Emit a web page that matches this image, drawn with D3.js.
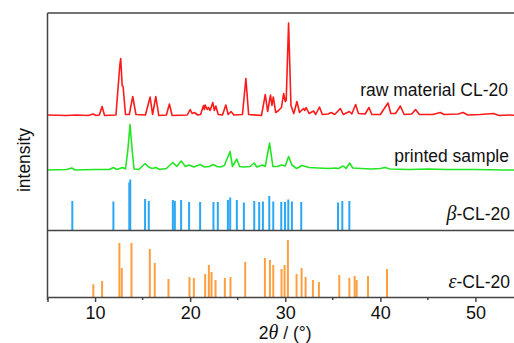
<!DOCTYPE html>
<html>
<head>
<meta charset="utf-8">
<script src="https://cdn.jsdelivr.net/npm/d3@7"></script>
<style>
  html, body { margin: 0; padding: 0; background: #fff; }
  svg { display: block; }
  text { font-family: "Liberation Sans", Arial, sans-serif; fill: #111; }
  .greek { font-family: "Liberation Serif", "DejaVu Serif", serif; font-style: italic; }
</style>
</head>
<body>
<div id="chart-holder"></div>
<script>
// measured pattern, [2theta, intensity above own baseline] (a.u.)
const rawMaterial = [
  [5, 0.5], [7, 0], [8, 0.5], [9.3, 0], [9.8, 1.5], [10.1, 0], [10.45, 0.5], [10.74, 9], [11.0, 0],
  [12.2, 0.5], [12.6, 50], [12.7, 57], [12.85, 30], [12.95, 29], [13.2, 1], [13.6, 1], [13.96, 19],
  [14.3, 1], [15.3, 0.5], [15.79, 18.5], [16.05, 1], [16.39, 19], [16.7, 0], [17.5, 0.5], [17.82, 11.5],
  [18.1, 0], [19.7, 0.5], [20.0, 6], [20.2, 2], [20.45, 3], [20.8, 0.5], [21.1, 1], [21.4, 10], [21.5, 6],
  [21.58, 10.5], [21.8, 6], [21.93, 8], [22.1, 5], [22.38, 13], [22.55, 5], [22.7, 9.5], [22.95, 1],
  [23.4, 0.5], [23.75, 10.5], [24.0, 1], [24.3, 4], [24.6, 0.5], [25.5, 1], [25.86, 37], [26.15, 1],
  [27.5, 0], [27.9, 21], [28.15, 4], [28.45, 20.5], [28.6, 10], [28.74, 18.5], [29.0, 3], [29.3, 5],
  [29.6, 8], [29.83, 22], [30.0, 14], [30.1, 15], [30.35, 92.5], [30.6, 10], [30.9, 2], [31.23, 14],
  [31.5, 3], [31.7, 5], [31.93, 7], [32.05, 5], [32.2, 8], [32.5, 2], [32.98, 4.5], [33.2, 1], [33.6, 8.5],
  [33.9, 1], [34.5, 1.5], [34.84, 3], [35.2, 1], [35.8, 7], [36.1, 1], [36.74, 4], [37.0, 1.5], [37.4, 11],
  [37.7, 2], [38.4, 1.5], [38.8, 8], [39.1, 1], [40.0, 1], [40.8, 12.5], [41.1, 2], [41.6, 2], [42.1, 9.5],
  [42.5, 1], [43.3, 1.5], [43.7, 6], [44.1, 1], [45.5, 1], [46.3, 3], [46.7, 1], [48.2, 1.5], [48.7, 3],
  [49.2, 0.5], [50.5, 1], [51.9, 2], [52.5, 0], [53.5, 0.5], [55, 0]
];

const printedSample = [
  [5, 0], [7, 0.5], [7.55, 2], [7.9, 0], [10, 0.5], [11.5, 0.5], [11.93, 2.5], [12.3, 0.5], [12.88, 2.5],
  [13.2, 1], [13.45, 20], [13.68, 45.5], [13.9, 20], [14.1, 1], [14.6, 0.5], [15.26, 6.5], [15.65, 3],
  [16.0, 1.5], [16.4, 2.5], [16.8, 0.5], [17.5, 1.5], [18.18, 7.5], [18.6, 3.5], [19.05, 9], [19.5, 3.5],
  [19.9, 5], [20.4, 3], [21.05, 5.5], [21.5, 3], [22.0, 3.5], [22.45, 5.5], [22.8, 3.5], [23.2, 3],
  [23.6, 4.5], [24.2, 18.5], [24.45, 3.5], [24.9, 11], [25.2, 3.5], [25.6, 3], [26.3, 3.5], [26.74, 7],
  [27.0, 3], [27.6, 5], [27.9, 3.5], [28.35, 27], [28.7, 3.5], [29.2, 3.5], [29.6, 5], [30.0, 4],
  [30.35, 13.5], [30.7, 5], [31.2, 1.5], [31.75, 4.5], [32.5, 2.5], [33.5, 2], [34.5, 1.5], [35.3, 2],
  [35.6, 1.5], [36.1, 4], [36.4, 1.5], [36.77, 7], [37.1, 2], [38, 1.5], [39, 1], [40.0, 1.5], [40.5, 2.5],
  [41, 1], [43, 0.5], [45, 1], [47, 0.5], [50, 0.5], [53, 0], [55, 0]
];

// reference stick patterns
const betaRefs = [
  [7.61, 29.5], [11.93, 29], [13.6, 48], [13.7, 51], [15.26, 31.5], [15.65, 29.5], [18.18, 30.5],
  [18.39, 29.5], [19.05, 30.5], [19.89, 28.5], [21.05, 28.5], [22.45, 28.5], [22.91, 28.5], [23.97, 30.5],
  [24.21, 33], [24.91, 30.5], [25.65, 28], [26.74, 29.5], [27.26, 28.5], [27.65, 29], [28.32, 34.5],
  [28.74, 29], [29.58, 28.5], [29.97, 28.5], [30.32, 31], [30.7, 29], [31.68, 28.5], [35.55, 28],
  [36.0, 29.5], [36.74, 29.5]
];

const epsilonRefs = [
  [9.82, 12.7], [10.74, 16], [12.56, 54], [12.81, 29], [13.83, 54], [15.76, 48], [16.28, 34], [17.72, 18],
  [19.93, 20], [20.39, 19], [21.58, 23], [21.97, 32], [22.25, 25], [22.67, 17], [23.65, 19], [24.24, 20],
  [25.79, 35], [27.86, 39], [28.39, 37], [28.74, 32], [29.61, 28], [29.93, 32], [30.28, 57], [31.19, 23],
  [31.72, 29], [32.14, 20], [32.91, 17], [33.54, 15], [35.68, 22], [36.74, 19], [37.30, 21], [37.51, 17],
  [38.7, 21], [40.7, 28]
];

const majorTicks = [10, 20, 30, 40, 50];
const minorTicks = [5, 15, 25, 35, 45];

var width = 514, height = 343;
var margin = { top: 13, right: -9, bottom: 46, left: 47.5 };

var x = d3.scaleLinear().domain([5, 55]).range([margin.left, width - margin.right]);
var y = d3.scaleLinear().domain([0, 284]).range([height - margin.bottom, margin.top]);

var svg = d3.select("#chart-holder").append("svg")
  .attr("width", width)
  .attr("height", height);

svg.append("defs").append("clipPath").attr("id", "plot-clip")
  .append("rect")
  .attr("x", margin.left).attr("y", margin.top)
  .attr("width", width - margin.left - margin.right)
  .attr("height", height - margin.top - margin.bottom);

var plot = svg.append("g").attr("clip-path", "url(#plot-clip)");

// baselines of each panel (a.u.)
var series = [
  { data: rawMaterial, base: 181.5, color: "#ff1a1a" },
  { data: printedSample, base: 127, color: "#22e622" }
];

series.forEach(function (s) {
  var line = d3.line()
    .x(function (d) { return x(d[0]); })
    .y(function (d) { return y(s.base + d[1]); });
  plot.append("path")
    .datum(s.data)
    .attr("fill", "none")
    .attr("stroke", s.color)
    .attr("stroke-width", 1.6)
    .attr("stroke-linejoin", "round")
    .attr("d", line);
});

var sticks = [
  { data: betaRefs, base: 66.5, color: "#2aa7f5" },
  { data: epsilonRefs, base: 0, color: "#ff9f40" }
];

sticks.forEach(function (s) {
  plot.append("g").selectAll("line")
    .data(s.data)
    .enter()
    .append("line")
    .attr("x1", function (d) { return x(d[0]); })
    .attr("x2", function (d) { return x(d[0]); })
    .attr("y1", y(s.base))
    .attr("y2", function (d) { return y(s.base + d[1]); })
    .attr("stroke", s.color)
    .attr("stroke-width", 2);
});

// frame
var axisColor = "#444";
svg.append("line")
  .attr("x1", margin.left).attr("x2", width)
  .attr("y1", y(284)).attr("y2", y(284))
  .attr("stroke", axisColor).attr("stroke-width", 1.5);
svg.append("line")
  .attr("x1", margin.left).attr("x2", width)
  .attr("y1", y(66.5)).attr("y2", y(66.5))
  .attr("stroke", axisColor).attr("stroke-width", 1.5);
svg.append("line")
  .attr("x1", margin.left).attr("x2", margin.left)
  .attr("y1", y(284)).attr("y2", y(0))
  .attr("stroke", axisColor).attr("stroke-width", 1.5);

// x axis
var xAxis = svg.append("g")
  .attr("transform", "translate(0," + y(0) + ")")
  .call(d3.axisBottom(x).tickValues(majorTicks).tickSize(5).tickPadding(4).tickFormat(d3.format("d")));
xAxis.select(".domain").attr("stroke", axisColor).attr("stroke-width", 1.5);
xAxis.selectAll(".tick line").attr("stroke", axisColor).attr("stroke-width", 1.5);
xAxis.selectAll(".tick text")
  .attr("font-family", "Liberation Sans, Arial, sans-serif")
  .attr("font-size", 18)
  .attr("fill", "#111");

svg.append("g").selectAll("line")
  .data(minorTicks)
  .enter()
  .append("line")
  .attr("x1", function (d) { return x(d); })
  .attr("x2", function (d) { return x(d); })
  .attr("y1", y(0)).attr("y2", y(0) + 3)
  .attr("stroke", axisColor).attr("stroke-width", 1.5);

// axis titles
var xt = svg.append("text")
  .attr("x", x(30)).attr("y", 339)
  .attr("text-anchor", "middle")
  .attr("font-size", 17.5);
xt.append("tspan").text("2");
xt.append("tspan").attr("class", "greek").attr("font-size", 20).text("θ");
xt.append("tspan").text(" / (°)");

svg.append("text")
  .attr("transform", "translate(30,160) rotate(-90)")
  .attr("text-anchor", "middle")
  .attr("font-size", 17.5)
  .text("intensity");

// series labels
svg.append("text")
  .attr("x", 508).attr("y", 96)
  .attr("text-anchor", "end")
  .attr("font-size", 17.5)
  .text("raw material CL-20");

svg.append("text")
  .attr("x", 509).attr("y", 162)
  .attr("text-anchor", "end")
  .attr("font-size", 17.5)
  .text("printed sample");

var bl = svg.append("text")
  .attr("x", 510).attr("y", 220)
  .attr("text-anchor", "end")
  .attr("font-size", 17.5);
bl.append("tspan").attr("class", "greek").attr("font-size", 20).text("β");
bl.append("tspan").text("-CL-20");

var el = svg.append("text")
  .attr("x", 510).attr("y", 288)
  .attr("text-anchor", "end")
  .attr("font-size", 17.5);
el.append("tspan").attr("class", "greek").attr("font-size", 20).text("ε");
el.append("tspan").text("-CL-20");
</script>
</body>
</html>
